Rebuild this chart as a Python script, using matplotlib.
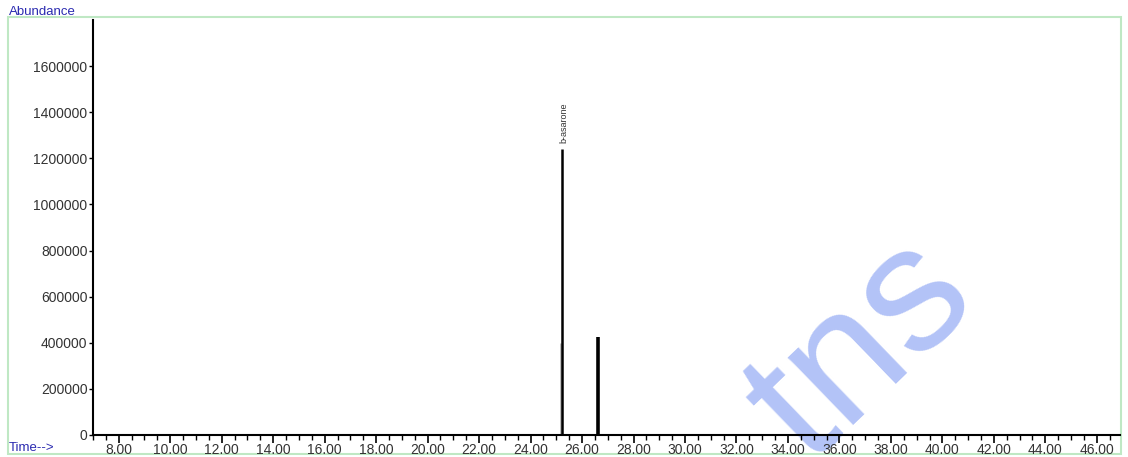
import numpy as np
import matplotlib.pyplot as plt
from matplotlib.patches import Rectangle
from matplotlib.ticker import MultipleLocator, FuncFormatter

# peak table (retention time in min, abundance)
peak_rt = [25.24, 26.63]
peak_height = [1241000, 425000]
peak_width = [1.8, 2.6]
peak_names = ["b-asarone", ""]

# co-eluting shoulder under the main peak
shoulder_rt = [25.20]
shoulder_height = [400000]

x_range = (7.0, 46.9)
y_range = (0, 1800000)
y_ticks = [0, 200000, 400000, 600000, 800000, 1000000, 1200000, 1400000, 1600000]

plt.rcParams['font.family'] = ['Liberation Sans', 'DejaVu Sans']

fig = plt.figure(figsize=(11.28, 4.57), dpi=100)
ax = fig.add_axes([93 / 1128, 1 - 435 / 457, (1120 - 93) / 1128, (435 - 20) / 457])
ax.set_facecolor('none')

ax.vlines(shoulder_rt, 0, shoulder_height, color='#b8b8b8', lw=2.0, zorder=2)
ax.vlines(peak_rt, 0, peak_height, color='black', lw=peak_width, zorder=3)

for rt, h, name in zip(peak_rt, peak_height, peak_names):
    if name:
        ax.annotate(name, (rt, h), xytext=(1, 4), textcoords='offset points',
                    rotation=90, ha='center', va='bottom', fontsize=6.5, color='#333333')

ax.set_xlim(*x_range)
ax.set_ylim(*y_range)
ax.xaxis.set_major_locator(MultipleLocator(2))
ax.xaxis.set_minor_locator(MultipleLocator(0.5))
ax.xaxis.set_major_formatter(FuncFormatter(lambda v, p: "%.2f" % v))
ax.set_yticks(y_ticks)
ax.set_yticklabels([str(v) for v in y_ticks])

for s in ['top', 'right']:
    ax.spines[s].set_visible(False)
for s in ['left', 'bottom']:
    ax.spines[s].set_linewidth(1.5)
    ax.spines[s].set_color('black')

ax.tick_params(axis='x', which='major', length=5.5, width=1.2, pad=0.5, labelsize=10, labelcolor='#333333')
ax.tick_params(axis='x', which='minor', length=3.5, width=1.0)
ax.tick_params(axis='y', length=3, width=1.0, pad=1, labelsize=10, labelcolor='#333333')

# outer frame of the report
fig.patches.append(Rectangle((8 / 1128, 1 - 454 / 457), (1121 - 8) / 1128, (454 - 17) / 457,
                             transform=fig.transFigure, fill=False, ec='#bfe8c4', lw=1.5, zorder=-2))

fig.text(9 / 1128, 1 - 12 / 457, "Abundance", color='#2a2ab0', fontsize=9.5, va='center', ha='left')
fig.text(9 / 1128, 1 - 448 / 457, "Time-->", color='#2a2ab0', fontsize=9.5, va='center', ha='left')

# watermark
fig.text(862 / 1128, 1 - 350 / 457, "tns", color='#b3c3f7', fontsize=128, rotation=44,
         ha='center', va='center', zorder=-1)

fig.savefig("out.png", dpi=100, facecolor='white')
